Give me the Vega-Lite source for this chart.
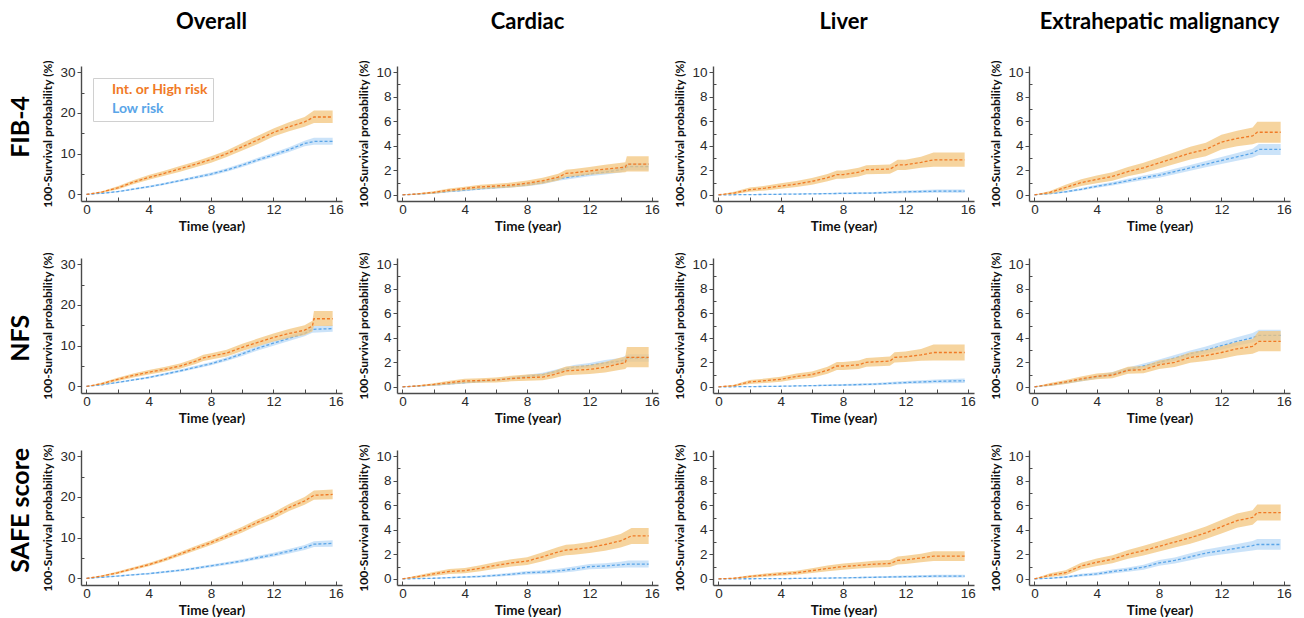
{
"$schema": "https://vega.github.io/schema/vega-lite/v6.json",
"background": "white",
"padding": {"left": 8, "top": 10, "right": 4, "bottom": 0},
"spacing": 18,
"datasets": {
"FO": [{"g":"H","t":0,"y":0,"l":0,"u":0},{"g":"H","t":1,"y":0.6,"l":0.4,"u":0.8},{"g":"H","t":2,"y":1.6,"l":1.2,"u":2.0},{"g":"H","t":3,"y":3.0,"l":2.5,"u":3.5},{"g":"H","t":4,"y":4.2,"l":3.6,"u":4.8},{"g":"H","t":5,"y":5.2,"l":4.6,"u":5.8},{"g":"H","t":6,"y":6.3,"l":5.6,"u":7.0},{"g":"H","t":7,"y":7.4,"l":6.7,"u":8.1},{"g":"H","t":8,"y":8.6,"l":7.8,"u":9.4},{"g":"H","t":9,"y":10.0,"l":9.2,"u":10.8},{"g":"H","t":10,"y":11.7,"l":10.8,"u":12.6},{"g":"H","t":11,"y":13.4,"l":12.4,"u":14.4},{"g":"H","t":12,"y":15.2,"l":14.2,"u":16.2},{"g":"H","t":13,"y":16.6,"l":15.5,"u":17.7},{"g":"H","t":14,"y":17.8,"l":16.6,"u":19.0},{"g":"H","t":14.6,"y":19.0,"l":17.5,"u":20.6},{"g":"H","t":15.8,"y":19.0,"l":17.5,"u":20.6},
{"g":"L","t":0,"y":0,"l":0,"u":0},{"g":"L","t":1,"y":0.3,"l":0.2,"u":0.4},{"g":"L","t":2,"y":0.7,"l":0.55,"u":0.85},{"g":"L","t":3,"y":1.3,"l":1.1,"u":1.5},{"g":"L","t":4,"y":1.9,"l":1.65,"u":2.15},{"g":"L","t":5,"y":2.6,"l":2.3,"u":2.9},{"g":"L","t":6,"y":3.4,"l":3.1,"u":3.7},{"g":"L","t":7,"y":4.2,"l":3.85,"u":4.55},{"g":"L","t":8,"y":5.0,"l":4.6,"u":5.4},{"g":"L","t":9,"y":6.0,"l":5.6,"u":6.4},{"g":"L","t":10,"y":7.2,"l":6.75,"u":7.65},{"g":"L","t":11,"y":8.5,"l":8.0,"u":9.0},{"g":"L","t":12,"y":9.7,"l":9.2,"u":10.2},{"g":"L","t":13,"y":11.0,"l":10.4,"u":11.6},{"g":"L","t":14,"y":12.5,"l":11.8,"u":13.2},{"g":"L","t":14.6,"y":13.0,"l":12.2,"u":13.9},{"g":"L","t":15.8,"y":13.0,"l":12.2,"u":13.9}],
"FC": [{"g":"H","t":0,"y":0,"l":0,"u":0},{"g":"H","t":1,"y":0.08,"l":0.02,"u":0.14},{"g":"H","t":2,"y":0.2,"l":0.1,"u":0.3},{"g":"H","t":3,"y":0.38,"l":0.25,"u":0.51},{"g":"H","t":4,"y":0.52,"l":0.37,"u":0.67},{"g":"H","t":5,"y":0.65,"l":0.48,"u":0.82},{"g":"H","t":6,"y":0.72,"l":0.54,"u":0.9},{"g":"H","t":7,"y":0.8,"l":0.6,"u":1.0},{"g":"H","t":8,"y":0.95,"l":0.73,"u":1.17},{"g":"H","t":9,"y":1.15,"l":0.9,"u":1.4},{"g":"H","t":10,"y":1.45,"l":1.17,"u":1.73},{"g":"H","t":10.5,"y":1.75,"l":1.45,"u":2.05},{"g":"H","t":11,"y":1.8,"l":1.5,"u":2.1},{"g":"H","t":12,"y":1.95,"l":1.63,"u":2.27},{"g":"H","t":13,"y":2.1,"l":1.75,"u":2.45},{"g":"H","t":14.3,"y":2.25,"l":1.85,"u":2.65},{"g":"H","t":14.4,"y":2.5,"l":1.9,"u":3.15},{"g":"H","t":15.8,"y":2.5,"l":1.9,"u":3.15},
{"g":"L","t":0,"y":0,"l":0,"u":0},{"g":"L","t":1,"y":0.06,"l":0.03,"u":0.09},{"g":"L","t":2,"y":0.15,"l":0.1,"u":0.2},{"g":"L","t":3,"y":0.28,"l":0.21,"u":0.35},{"g":"L","t":4,"y":0.38,"l":0.3,"u":0.46},{"g":"L","t":5,"y":0.5,"l":0.41,"u":0.59},{"g":"L","t":6,"y":0.6,"l":0.5,"u":0.7},{"g":"L","t":7,"y":0.7,"l":0.59,"u":0.81},{"g":"L","t":8,"y":0.82,"l":0.7,"u":0.94},{"g":"L","t":9,"y":1.0,"l":0.87,"u":1.13},{"g":"L","t":10,"y":1.3,"l":1.15,"u":1.45},{"g":"L","t":11,"y":1.5,"l":1.34,"u":1.66},{"g":"L","t":12,"y":1.7,"l":1.52,"u":1.88},{"g":"L","t":13,"y":1.85,"l":1.65,"u":2.05},{"g":"L","t":14,"y":2.05,"l":1.83,"u":2.27},{"g":"L","t":14.5,"y":2.3,"l":2.0,"u":2.6},{"g":"L","t":15.8,"y":2.3,"l":2.0,"u":2.6}],
"FL": [{"g":"H","t":0,"y":0,"l":0,"u":0},{"g":"H","t":1,"y":0.15,"l":0.05,"u":0.25},{"g":"H","t":2,"y":0.42,"l":0.25,"u":0.59},{"g":"H","t":3,"y":0.55,"l":0.36,"u":0.74},{"g":"H","t":4,"y":0.72,"l":0.5,"u":0.94},{"g":"H","t":5,"y":0.88,"l":0.64,"u":1.12},{"g":"H","t":6,"y":1.1,"l":0.83,"u":1.37},{"g":"H","t":7,"y":1.4,"l":1.1,"u":1.7},{"g":"H","t":7.6,"y":1.65,"l":1.32,"u":1.98},{"g":"H","t":8,"y":1.65,"l":1.32,"u":1.98},{"g":"H","t":9,"y":1.85,"l":1.5,"u":2.2},{"g":"H","t":9.5,"y":2.05,"l":1.68,"u":2.42},{"g":"H","t":11,"y":2.1,"l":1.72,"u":2.48},{"g":"H","t":11.5,"y":2.45,"l":2.03,"u":2.87},{"g":"H","t":12,"y":2.45,"l":2.03,"u":2.87},{"g":"H","t":13,"y":2.65,"l":2.2,"u":3.1},{"g":"H","t":13.8,"y":2.85,"l":2.3,"u":3.45},{"g":"H","t":15.8,"y":2.85,"l":2.3,"u":3.45},
{"g":"L","t":0,"y":0,"l":0,"u":0},{"g":"L","t":2,"y":0.02,"l":0,"u":0.05},{"g":"L","t":4,"y":0.05,"l":0.02,"u":0.1},{"g":"L","t":6,"y":0.08,"l":0.04,"u":0.14},{"g":"L","t":8,"y":0.12,"l":0.06,"u":0.19},{"g":"L","t":10,"y":0.15,"l":0.08,"u":0.23},{"g":"L","t":12,"y":0.25,"l":0.14,"u":0.36},{"g":"L","t":14,"y":0.3,"l":0.18,"u":0.43},{"g":"L","t":15.8,"y":0.3,"l":0.18,"u":0.43}],
"FE": [{"g":"H","t":0,"y":0,"l":0,"u":0},{"g":"H","t":1,"y":0.2,"l":0.08,"u":0.32},{"g":"H","t":2,"y":0.6,"l":0.38,"u":0.82},{"g":"H","t":3,"y":1.0,"l":0.72,"u":1.28},{"g":"H","t":4,"y":1.26,"l":0.95,"u":1.57},{"g":"H","t":5,"y":1.5,"l":1.16,"u":1.84},{"g":"H","t":6,"y":1.9,"l":1.52,"u":2.28},{"g":"H","t":7,"y":2.2,"l":1.79,"u":2.61},{"g":"H","t":8,"y":2.6,"l":2.15,"u":3.05},{"g":"H","t":9,"y":3.0,"l":2.52,"u":3.48},{"g":"H","t":10,"y":3.4,"l":2.88,"u":3.92},{"g":"H","t":11,"y":3.7,"l":3.15,"u":4.25},{"g":"H","t":12,"y":4.3,"l":3.7,"u":4.9},{"g":"H","t":13,"y":4.6,"l":3.97,"u":5.23},{"g":"H","t":14,"y":4.8,"l":4.12,"u":5.48},{"g":"H","t":14.3,"y":5.1,"l":4.25,"u":5.95},{"g":"H","t":15.8,"y":5.1,"l":4.25,"u":5.95},
{"g":"L","t":0,"y":0,"l":0,"u":0},{"g":"L","t":1,"y":0.1,"l":0.05,"u":0.15},{"g":"L","t":2,"y":0.25,"l":0.17,"u":0.33},{"g":"L","t":3,"y":0.45,"l":0.35,"u":0.55},{"g":"L","t":4,"y":0.7,"l":0.58,"u":0.82},{"g":"L","t":5,"y":0.9,"l":0.76,"u":1.04},{"g":"L","t":6,"y":1.15,"l":0.99,"u":1.31},{"g":"L","t":7,"y":1.4,"l":1.22,"u":1.58},{"g":"L","t":8,"y":1.6,"l":1.4,"u":1.8},{"g":"L","t":9,"y":1.9,"l":1.68,"u":2.12},{"g":"L","t":10,"y":2.2,"l":1.96,"u":2.44},{"g":"L","t":11,"y":2.5,"l":2.24,"u":2.76},{"g":"L","t":12,"y":2.8,"l":2.52,"u":3.08},{"g":"L","t":13,"y":3.1,"l":2.78,"u":3.42},{"g":"L","t":14,"y":3.4,"l":3.05,"u":3.75},{"g":"L","t":14.4,"y":3.7,"l":3.25,"u":4.15},{"g":"L","t":15.8,"y":3.7,"l":3.25,"u":4.15}],
"NO": [{"g":"H","t":0,"y":0,"l":0,"u":0},{"g":"H","t":1,"y":0.7,"l":0.45,"u":0.95},{"g":"H","t":2,"y":1.75,"l":1.35,"u":2.15},{"g":"H","t":3,"y":2.7,"l":2.2,"u":3.2},{"g":"H","t":4,"y":3.5,"l":2.95,"u":4.05},{"g":"H","t":5,"y":4.2,"l":3.6,"u":4.8},{"g":"H","t":6,"y":5.0,"l":4.35,"u":5.65},{"g":"H","t":7,"y":6.2,"l":5.5,"u":6.9},{"g":"H","t":7.5,"y":7.0,"l":6.25,"u":7.75},{"g":"H","t":8,"y":7.4,"l":6.63,"u":8.17},{"g":"H","t":9,"y":8.2,"l":7.38,"u":9.02},{"g":"H","t":10,"y":9.6,"l":8.7,"u":10.5},{"g":"H","t":11,"y":10.8,"l":9.85,"u":11.75},{"g":"H","t":12,"y":12.0,"l":11.0,"u":13.0},{"g":"H","t":13,"y":13.0,"l":11.9,"u":14.1},{"g":"H","t":14,"y":13.8,"l":12.6,"u":15.0},{"g":"H","t":14.5,"y":14.8,"l":13.5,"u":16.1},{"g":"H","t":14.6,"y":16.6,"l":14.8,"u":18.5},{"g":"H","t":15.8,"y":16.6,"l":14.8,"u":18.5},
{"g":"L","t":0,"y":0,"l":0,"u":0},{"g":"L","t":1,"y":0.4,"l":0.28,"u":0.52},{"g":"L","t":2,"y":1.0,"l":0.82,"u":1.18},{"g":"L","t":3,"y":1.6,"l":1.38,"u":1.82},{"g":"L","t":4,"y":2.2,"l":1.95,"u":2.45},{"g":"L","t":5,"y":3.0,"l":2.7,"u":3.3},{"g":"L","t":6,"y":3.8,"l":3.46,"u":4.14},{"g":"L","t":7,"y":4.7,"l":4.32,"u":5.08},{"g":"L","t":8,"y":5.6,"l":5.18,"u":6.02},{"g":"L","t":9,"y":6.7,"l":6.24,"u":7.16},{"g":"L","t":10,"y":8.0,"l":7.5,"u":8.5},{"g":"L","t":11,"y":9.4,"l":8.85,"u":9.95},{"g":"L","t":12,"y":10.6,"l":10.0,"u":11.2},{"g":"L","t":13,"y":11.8,"l":11.15,"u":12.45},{"g":"L","t":14,"y":13.0,"l":12.3,"u":13.7},{"g":"L","t":14.5,"y":14.0,"l":13.2,"u":14.8},{"g":"L","t":15.8,"y":14.2,"l":13.4,"u":15.0}],
"NC": [{"g":"H","t":0,"y":0,"l":0,"u":0},{"g":"H","t":1,"y":0.08,"l":0.02,"u":0.14},{"g":"H","t":2,"y":0.2,"l":0.1,"u":0.3},{"g":"H","t":3,"y":0.35,"l":0.2,"u":0.5},{"g":"H","t":4,"y":0.48,"l":0.3,"u":0.66},{"g":"H","t":5,"y":0.52,"l":0.33,"u":0.71},{"g":"H","t":6,"y":0.56,"l":0.36,"u":0.76},{"g":"H","t":7,"y":0.68,"l":0.45,"u":0.91},{"g":"H","t":8,"y":0.75,"l":0.5,"u":1.0},{"g":"H","t":9,"y":0.8,"l":0.54,"u":1.06},{"g":"H","t":9.7,"y":1.0,"l":0.7,"u":1.3},{"g":"H","t":10.5,"y":1.3,"l":0.95,"u":1.65},{"g":"H","t":12,"y":1.42,"l":1.05,"u":1.79},{"g":"H","t":13,"y":1.6,"l":1.18,"u":2.02},{"g":"H","t":14,"y":1.9,"l":1.4,"u":2.4},{"g":"H","t":14.3,"y":1.95,"l":1.45,"u":2.45},{"g":"H","t":14.4,"y":2.4,"l":1.6,"u":3.25},{"g":"H","t":15.8,"y":2.4,"l":1.6,"u":3.25},
{"g":"L","t":0,"y":0,"l":0,"u":0},{"g":"L","t":1,"y":0.06,"l":0.03,"u":0.09},{"g":"L","t":2,"y":0.15,"l":0.1,"u":0.2},{"g":"L","t":3,"y":0.25,"l":0.18,"u":0.32},{"g":"L","t":4,"y":0.35,"l":0.27,"u":0.43},{"g":"L","t":5,"y":0.45,"l":0.36,"u":0.54},{"g":"L","t":6,"y":0.55,"l":0.45,"u":0.65},{"g":"L","t":7,"y":0.7,"l":0.59,"u":0.81},{"g":"L","t":8,"y":0.85,"l":0.72,"u":0.98},{"g":"L","t":9,"y":1.0,"l":0.86,"u":1.14},{"g":"L","t":10,"y":1.3,"l":1.14,"u":1.46},{"g":"L","t":11,"y":1.6,"l":1.42,"u":1.78},{"g":"L","t":12,"y":1.75,"l":1.55,"u":1.95},{"g":"L","t":13,"y":1.95,"l":1.72,"u":2.18},{"g":"L","t":14,"y":2.1,"l":1.85,"u":2.35},{"g":"L","t":14.5,"y":2.35,"l":2.05,"u":2.65},{"g":"L","t":15.8,"y":2.35,"l":2.05,"u":2.65}],
"NL": [{"g":"H","t":0,"y":0,"l":0,"u":0},{"g":"H","t":1,"y":0.1,"l":0.02,"u":0.18},{"g":"H","t":2,"y":0.4,"l":0.24,"u":0.56},{"g":"H","t":3,"y":0.5,"l":0.32,"u":0.68},{"g":"H","t":4,"y":0.62,"l":0.42,"u":0.82},{"g":"H","t":5,"y":0.85,"l":0.62,"u":1.08},{"g":"H","t":6,"y":1.0,"l":0.75,"u":1.25},{"g":"H","t":7,"y":1.35,"l":1.06,"u":1.64},{"g":"H","t":7.6,"y":1.7,"l":1.38,"u":2.02},{"g":"H","t":8,"y":1.7,"l":1.38,"u":2.02},{"g":"H","t":9,"y":1.8,"l":1.46,"u":2.14},{"g":"H","t":9.5,"y":2.0,"l":1.64,"u":2.36},{"g":"H","t":11,"y":2.1,"l":1.72,"u":2.48},{"g":"H","t":11.3,"y":2.4,"l":1.98,"u":2.82},{"g":"H","t":12,"y":2.45,"l":2.02,"u":2.88},{"g":"H","t":13,"y":2.6,"l":2.12,"u":3.08},{"g":"H","t":13.8,"y":2.8,"l":2.15,"u":3.45},{"g":"H","t":15.8,"y":2.8,"l":2.15,"u":3.45},
{"g":"L","t":0,"y":0,"l":0,"u":0},{"g":"L","t":2,"y":0.02,"l":0,"u":0.05},{"g":"L","t":4,"y":0.05,"l":0.02,"u":0.1},{"g":"L","t":6,"y":0.1,"l":0.05,"u":0.16},{"g":"L","t":8,"y":0.15,"l":0.08,"u":0.23},{"g":"L","t":10,"y":0.22,"l":0.13,"u":0.31},{"g":"L","t":12,"y":0.35,"l":0.23,"u":0.47},{"g":"L","t":14,"y":0.45,"l":0.3,"u":0.6},{"g":"L","t":15.8,"y":0.5,"l":0.32,"u":0.68}],
"NE": [{"g":"H","t":0,"y":0,"l":0,"u":0},{"g":"H","t":1,"y":0.2,"l":0.08,"u":0.32},{"g":"H","t":2,"y":0.4,"l":0.24,"u":0.56},{"g":"H","t":3,"y":0.65,"l":0.45,"u":0.85},{"g":"H","t":4,"y":0.86,"l":0.63,"u":1.09},{"g":"H","t":5,"y":0.95,"l":0.7,"u":1.2},{"g":"H","t":6,"y":1.35,"l":1.06,"u":1.64},{"g":"H","t":7,"y":1.4,"l":1.1,"u":1.7},{"g":"H","t":8,"y":1.8,"l":1.45,"u":2.15},{"g":"H","t":9,"y":2.0,"l":1.62,"u":2.38},{"g":"H","t":10,"y":2.4,"l":1.97,"u":2.83},{"g":"H","t":11,"y":2.55,"l":2.1,"u":3.0},{"g":"H","t":12,"y":2.8,"l":2.3,"u":3.3},{"g":"H","t":13,"y":3.1,"l":2.55,"u":3.65},{"g":"H","t":14,"y":3.3,"l":2.7,"u":3.9},{"g":"H","t":14.4,"y":3.7,"l":2.9,"u":4.55},{"g":"H","t":15.8,"y":3.7,"l":2.9,"u":4.55},
{"g":"L","t":0,"y":0,"l":0,"u":0},{"g":"L","t":1,"y":0.15,"l":0.08,"u":0.22},{"g":"L","t":2,"y":0.35,"l":0.25,"u":0.45},{"g":"L","t":3,"y":0.55,"l":0.43,"u":0.67},{"g":"L","t":4,"y":0.8,"l":0.66,"u":0.94},{"g":"L","t":5,"y":1.05,"l":0.89,"u":1.21},{"g":"L","t":6,"y":1.4,"l":1.22,"u":1.58},{"g":"L","t":7,"y":1.7,"l":1.5,"u":1.9},{"g":"L","t":8,"y":2.0,"l":1.78,"u":2.22},{"g":"L","t":9,"y":2.35,"l":2.1,"u":2.6},{"g":"L","t":10,"y":2.7,"l":2.43,"u":2.97},{"g":"L","t":11,"y":3.0,"l":2.71,"u":3.29},{"g":"L","t":12,"y":3.35,"l":3.03,"u":3.67},{"g":"L","t":13,"y":3.7,"l":3.35,"u":4.05},{"g":"L","t":14,"y":4.0,"l":3.62,"u":4.38},{"g":"L","t":14.4,"y":4.2,"l":3.78,"u":4.65},{"g":"L","t":15.8,"y":4.2,"l":3.78,"u":4.65}],
"SO": [{"g":"H","t":0,"y":0,"l":0,"u":0},{"g":"H","t":1,"y":0.6,"l":0.4,"u":0.8},{"g":"H","t":2,"y":1.4,"l":1.1,"u":1.7},{"g":"H","t":3,"y":2.4,"l":2.05,"u":2.75},{"g":"H","t":4,"y":3.4,"l":3.0,"u":3.8},{"g":"H","t":5,"y":4.6,"l":4.15,"u":5.05},{"g":"H","t":6,"y":6.0,"l":5.5,"u":6.5},{"g":"H","t":7,"y":7.4,"l":6.85,"u":7.95},{"g":"H","t":8,"y":8.8,"l":8.2,"u":9.4},{"g":"H","t":9,"y":10.4,"l":9.75,"u":11.05},{"g":"H","t":10,"y":12.0,"l":11.3,"u":12.7},{"g":"H","t":11,"y":13.8,"l":13.05,"u":14.55},{"g":"H","t":12,"y":15.4,"l":14.6,"u":16.2},{"g":"H","t":13,"y":17.4,"l":16.55,"u":18.25},{"g":"H","t":14,"y":19.0,"l":18.05,"u":19.95},{"g":"H","t":14.6,"y":20.4,"l":19.3,"u":21.6},{"g":"H","t":15.8,"y":20.6,"l":19.4,"u":21.8},
{"g":"L","t":0,"y":0,"l":0,"u":0},{"g":"L","t":1,"y":0.3,"l":0.2,"u":0.4},{"g":"L","t":2,"y":0.6,"l":0.45,"u":0.75},{"g":"L","t":3,"y":0.9,"l":0.72,"u":1.08},{"g":"L","t":4,"y":1.2,"l":1.0,"u":1.4},{"g":"L","t":5,"y":1.6,"l":1.37,"u":1.83},{"g":"L","t":6,"y":2.0,"l":1.74,"u":2.26},{"g":"L","t":7,"y":2.5,"l":2.2,"u":2.8},{"g":"L","t":8,"y":3.1,"l":2.77,"u":3.43},{"g":"L","t":9,"y":3.7,"l":3.33,"u":4.07},{"g":"L","t":10,"y":4.3,"l":3.9,"u":4.7},{"g":"L","t":11,"y":5.1,"l":4.65,"u":5.55},{"g":"L","t":12,"y":5.8,"l":5.3,"u":6.3},{"g":"L","t":13,"y":6.7,"l":6.15,"u":7.25},{"g":"L","t":14,"y":7.6,"l":7.0,"u":8.2},{"g":"L","t":14.6,"y":8.4,"l":7.7,"u":9.1},{"g":"L","t":15.8,"y":8.6,"l":7.8,"u":9.4}],
"SC": [{"g":"H","t":0,"y":0,"l":0,"u":0},{"g":"H","t":1,"y":0.19,"l":0.08,"u":0.3},{"g":"H","t":2,"y":0.4,"l":0.24,"u":0.56},{"g":"H","t":3,"y":0.6,"l":0.4,"u":0.8},{"g":"H","t":4,"y":0.67,"l":0.46,"u":0.88},{"g":"H","t":5,"y":0.86,"l":0.62,"u":1.1},{"g":"H","t":6,"y":1.1,"l":0.83,"u":1.37},{"g":"H","t":7,"y":1.3,"l":1.0,"u":1.6},{"g":"H","t":8,"y":1.45,"l":1.13,"u":1.77},{"g":"H","t":9,"y":1.8,"l":1.44,"u":2.16},{"g":"H","t":10,"y":2.2,"l":1.8,"u":2.6},{"g":"H","t":10.5,"y":2.35,"l":1.93,"u":2.77},{"g":"H","t":11,"y":2.4,"l":1.97,"u":2.83},{"g":"H","t":12,"y":2.55,"l":2.1,"u":3.0},{"g":"H","t":13,"y":2.8,"l":2.3,"u":3.3},{"g":"H","t":14,"y":3.1,"l":2.55,"u":3.65},{"g":"H","t":14.7,"y":3.5,"l":2.85,"u":4.15},{"g":"H","t":15.8,"y":3.5,"l":2.85,"u":4.15},
{"g":"L","t":0,"y":0,"l":0,"u":0},{"g":"L","t":1,"y":0.02,"l":0,"u":0.05},{"g":"L","t":2,"y":0.05,"l":0.01,"u":0.1},{"g":"L","t":3,"y":0.1,"l":0.04,"u":0.16},{"g":"L","t":4,"y":0.15,"l":0.08,"u":0.22},{"g":"L","t":5,"y":0.2,"l":0.11,"u":0.29},{"g":"L","t":6,"y":0.28,"l":0.18,"u":0.38},{"g":"L","t":7,"y":0.38,"l":0.26,"u":0.5},{"g":"L","t":8,"y":0.5,"l":0.36,"u":0.64},{"g":"L","t":9,"y":0.55,"l":0.4,"u":0.7},{"g":"L","t":10,"y":0.65,"l":0.48,"u":0.82},{"g":"L","t":11,"y":0.8,"l":0.6,"u":1.0},{"g":"L","t":12,"y":1.0,"l":0.78,"u":1.22},{"g":"L","t":13,"y":1.05,"l":0.82,"u":1.28},{"g":"L","t":14,"y":1.15,"l":0.9,"u":1.4},{"g":"L","t":14.5,"y":1.2,"l":0.93,"u":1.5},{"g":"L","t":15.8,"y":1.2,"l":0.93,"u":1.5}],
"SL": [{"g":"H","t":0,"y":0,"l":0,"u":0},{"g":"H","t":1,"y":0.05,"l":0,"u":0.1},{"g":"H","t":2,"y":0.2,"l":0.1,"u":0.3},{"g":"H","t":3,"y":0.3,"l":0.17,"u":0.43},{"g":"H","t":4,"y":0.4,"l":0.25,"u":0.55},{"g":"H","t":5,"y":0.5,"l":0.33,"u":0.67},{"g":"H","t":6,"y":0.67,"l":0.47,"u":0.87},{"g":"H","t":7,"y":0.85,"l":0.62,"u":1.08},{"g":"H","t":8,"y":1.0,"l":0.75,"u":1.25},{"g":"H","t":9,"y":1.1,"l":0.84,"u":1.36},{"g":"H","t":10,"y":1.2,"l":0.92,"u":1.48},{"g":"H","t":11,"y":1.25,"l":0.96,"u":1.54},{"g":"H","t":11.5,"y":1.5,"l":1.18,"u":1.82},{"g":"H","t":12,"y":1.55,"l":1.22,"u":1.88},{"g":"H","t":13,"y":1.7,"l":1.35,"u":2.05},{"g":"H","t":13.8,"y":1.85,"l":1.45,"u":2.25},{"g":"H","t":15.8,"y":1.85,"l":1.45,"u":2.25},
{"g":"L","t":0,"y":0,"l":0,"u":0},{"g":"L","t":4,"y":0.02,"l":0,"u":0.05},{"g":"L","t":8,"y":0.08,"l":0.03,"u":0.14},{"g":"L","t":12,"y":0.18,"l":0.09,"u":0.28},{"g":"L","t":14,"y":0.22,"l":0.12,"u":0.33},{"g":"L","t":15.8,"y":0.22,"l":0.12,"u":0.33}],
"SE": [{"g":"H","t":0,"y":0,"l":0,"u":0},{"g":"H","t":1,"y":0.3,"l":0.15,"u":0.45},{"g":"H","t":2,"y":0.5,"l":0.3,"u":0.7},{"g":"H","t":3,"y":1.05,"l":0.78,"u":1.32},{"g":"H","t":4,"y":1.35,"l":1.05,"u":1.65},{"g":"H","t":5,"y":1.6,"l":1.27,"u":1.93},{"g":"H","t":6,"y":2.0,"l":1.64,"u":2.36},{"g":"H","t":7,"y":2.3,"l":1.91,"u":2.69},{"g":"H","t":8,"y":2.65,"l":2.23,"u":3.07},{"g":"H","t":9,"y":3.0,"l":2.55,"u":3.45},{"g":"H","t":10,"y":3.35,"l":2.87,"u":3.83},{"g":"H","t":11,"y":3.75,"l":3.24,"u":4.26},{"g":"H","t":12,"y":4.25,"l":3.7,"u":4.8},{"g":"H","t":13,"y":4.75,"l":4.17,"u":5.33},{"g":"H","t":14,"y":5.0,"l":4.4,"u":5.6},{"g":"H","t":14.3,"y":5.4,"l":4.75,"u":6.05},{"g":"H","t":15.8,"y":5.4,"l":4.75,"u":6.05},
{"g":"L","t":0,"y":0,"l":0,"u":0},{"g":"L","t":1,"y":0.05,"l":0.01,"u":0.09},{"g":"L","t":2,"y":0.15,"l":0.07,"u":0.23},{"g":"L","t":3,"y":0.3,"l":0.19,"u":0.41},{"g":"L","t":4,"y":0.4,"l":0.27,"u":0.53},{"g":"L","t":5,"y":0.6,"l":0.44,"u":0.76},{"g":"L","t":6,"y":0.75,"l":0.57,"u":0.93},{"g":"L","t":7,"y":0.95,"l":0.75,"u":1.15},{"g":"L","t":8,"y":1.3,"l":1.07,"u":1.53},{"g":"L","t":9,"y":1.5,"l":1.25,"u":1.75},{"g":"L","t":10,"y":1.8,"l":1.52,"u":2.08},{"g":"L","t":11,"y":2.1,"l":1.8,"u":2.4},{"g":"L","t":12,"y":2.3,"l":1.98,"u":2.62},{"g":"L","t":13,"y":2.5,"l":2.15,"u":2.85},{"g":"L","t":14,"y":2.7,"l":2.32,"u":3.08},{"g":"L","t":14.3,"y":2.8,"l":2.38,"u":3.25},{"g":"L","t":15.8,"y":2.8,"l":2.38,"u":3.25}]
},
"vconcat": [
{"title": {"text": "FIB-4", "orient": "left", "anchor": "middle", "font": "Lato", "fontSize": 25, "fontWeight": "bold", "color": "black", "offset": 8, "dx": -5},
 "spacing": 13,
 "resolve": {"scale": {"stroke": "independent"}, "legend": {"stroke": "independent"}},
 "hconcat": [
 {"title": {"text": "Overall", "font": "Lato", "fontSize": 22, "fontWeight": "bold", "color": "black", "offset": 26},
  "width": 261, "height": 135, "data": {"name": "FO"},
  "encoding": {"x": {"field": "t", "type": "quantitative", "scale": {"domain": [-0.35, 16.4], "nice": false, "zero": false}, "axis": {"values": [0,2,4,6,8,10,12,14,16], "tickCount": 30, "format": "d", "labelExpr": "datum.value % 4 === 0 ? datum.label : ''", "title": "Time (year)"}}},
  "layer": [
   {"transform": [{"filter": "datum.g === 'L'"}], "mark": {"type": "area", "color": "#a9d0f5", "opacity": 0.6}, "encoding": {"y": {"field": "l", "type": "quantitative", "scale": {"domain": [-1.6, 31.5], "nice": false, "zero": false}, "axis": {"values": [0,5,10,15,20,25,30], "tickCount": 30, "format": "d", "labelExpr": "datum.value % 10 === 0 ? datum.label : ''", "tickSize": {"condition": {"test": "datum.value % 10 !== 0", "value": -3}, "value": 4}, "title": "100-Survival probability (%)"}}, "y2": {"field": "u"}}},
   {"transform": [{"filter": "datum.g === 'L'"}], "mark": {"type": "line", "strokeDash": [3, 2], "strokeWidth": 1.3}, "encoding": {"y": {"field": "y", "type": "quantitative", "scale": {"domain": [-1.6, 31.5], "nice": false, "zero": false}}, "stroke": {"field": "g", "type": "nominal", "scale": {"domain": ["H", "L"], "range": ["#f07a26", "#5aa5e8"]}, "legend": {"orient": "top-left", "offset": 12, "title": null, "padding": 5, "strokeColor": "#d0d0d0", "fillColor": "white", "symbolSize": 0, "symbolOpacity": 0, "symbolStrokeWidth": 0, "labelOffset": 0, "labelFont": "Lato", "labelFontSize": 14, "labelFontWeight": "bold", "labelLimit": 300, "rowPadding": 5, "labelExpr": "datum.value === 'H' ? 'Int. or High risk' : 'Low risk'", "encode": {"labels": {"update": {"fill": {"signal": "datum.value === 'H' ? '#f07a26' : '#5aa5e8'"}}}}}}}},
   {"transform": [{"filter": "datum.g === 'H'"}], "mark": {"type": "area", "color": "#f3c57e", "opacity": 0.75}, "encoding": {"y": {"field": "l", "type": "quantitative", "scale": {"domain": [-1.6, 31.5], "nice": false, "zero": false}}, "y2": {"field": "u"}}},
   {"transform": [{"filter": "datum.g === 'H'"}], "mark": {"type": "line", "strokeDash": [3, 2], "strokeWidth": 1.3}, "encoding": {"y": {"field": "y", "type": "quantitative", "scale": {"domain": [-1.6, 31.5], "nice": false, "zero": false}}, "stroke": {"field": "g", "type": "nominal", "scale": {"domain": ["H", "L"], "range": ["#f07a26", "#5aa5e8"]}}}}
  ]},
 {"title": {"text": "Cardiac", "font": "Lato", "fontSize": 22, "fontWeight": "bold", "color": "black", "offset": 26},
  "width": 261, "height": 135, "data": {"name": "FC"},
  "encoding": {"x": {"field": "t", "type": "quantitative", "scale": {"domain": [-0.35, 16.4], "nice": false, "zero": false}, "axis": {"values": [0,2,4,6,8,10,12,14,16], "tickCount": 30, "format": "d", "labelExpr": "datum.value % 4 === 0 ? datum.label : ''", "title": "Time (year)"}}},
  "layer": [
   {"transform": [{"filter": "datum.g === 'L'"}], "mark": {"type": "area", "color": "#a9d0f5", "opacity": 0.6}, "encoding": {"y": {"field": "l", "type": "quantitative", "scale": {"domain": [-0.5, 10.5], "nice": false, "zero": false}, "axis": {"values": [0,1,2,3,4,5,6,7,8,9,10], "tickCount": 30, "format": "d", "labelExpr": "datum.value % 2 === 0 ? datum.label : ''", "tickSize": {"condition": {"test": "datum.value % 2 !== 0", "value": -3}, "value": 4}, "title": "100-Survival probability (%)"}}, "y2": {"field": "u"}}},
   {"transform": [{"filter": "datum.g === 'L'"}], "mark": {"type": "line", "strokeDash": [3, 2], "strokeWidth": 1.3, "stroke": "#5aa5e8"}, "encoding": {"y": {"field": "y", "type": "quantitative", "scale": {"domain": [-0.5, 10.5], "nice": false, "zero": false}}}},
   {"transform": [{"filter": "datum.g === 'H'"}], "mark": {"type": "area", "color": "#f3c57e", "opacity": 0.75}, "encoding": {"y": {"field": "l", "type": "quantitative", "scale": {"domain": [-0.5, 10.5], "nice": false, "zero": false}}, "y2": {"field": "u"}}},
   {"transform": [{"filter": "datum.g === 'H'"}], "mark": {"type": "line", "strokeDash": [3, 2], "strokeWidth": 1.3, "stroke": "#f07a26"}, "encoding": {"y": {"field": "y", "type": "quantitative", "scale": {"domain": [-0.5, 10.5], "nice": false, "zero": false}}}}
  ]},
 {"title": {"text": "Liver", "font": "Lato", "fontSize": 22, "fontWeight": "bold", "color": "black", "offset": 26},
  "width": 261, "height": 135, "data": {"name": "FL"},
  "encoding": {"x": {"field": "t", "type": "quantitative", "scale": {"domain": [-0.35, 16.4], "nice": false, "zero": false}, "axis": {"values": [0,2,4,6,8,10,12,14,16], "tickCount": 30, "format": "d", "labelExpr": "datum.value % 4 === 0 ? datum.label : ''", "title": "Time (year)"}}},
  "layer": [
   {"transform": [{"filter": "datum.g === 'L'"}], "mark": {"type": "area", "color": "#a9d0f5", "opacity": 0.6}, "encoding": {"y": {"field": "l", "type": "quantitative", "scale": {"domain": [-0.5, 10.5], "nice": false, "zero": false}, "axis": {"values": [0,1,2,3,4,5,6,7,8,9,10], "tickCount": 30, "format": "d", "labelExpr": "datum.value % 2 === 0 ? datum.label : ''", "tickSize": {"condition": {"test": "datum.value % 2 !== 0", "value": -3}, "value": 4}, "title": "100-Survival probability (%)"}}, "y2": {"field": "u"}}},
   {"transform": [{"filter": "datum.g === 'L'"}], "mark": {"type": "line", "strokeDash": [3, 2], "strokeWidth": 1.3, "stroke": "#5aa5e8"}, "encoding": {"y": {"field": "y", "type": "quantitative", "scale": {"domain": [-0.5, 10.5], "nice": false, "zero": false}}}},
   {"transform": [{"filter": "datum.g === 'H'"}], "mark": {"type": "area", "color": "#f3c57e", "opacity": 0.75}, "encoding": {"y": {"field": "l", "type": "quantitative", "scale": {"domain": [-0.5, 10.5], "nice": false, "zero": false}}, "y2": {"field": "u"}}},
   {"transform": [{"filter": "datum.g === 'H'"}], "mark": {"type": "line", "strokeDash": [3, 2], "strokeWidth": 1.3, "stroke": "#f07a26"}, "encoding": {"y": {"field": "y", "type": "quantitative", "scale": {"domain": [-0.5, 10.5], "nice": false, "zero": false}}}}
  ]},
 {"title": {"text": "Extrahepatic malignancy", "font": "Lato", "fontSize": 22, "fontWeight": "bold", "color": "black", "offset": 26},
  "width": 261, "height": 135, "data": {"name": "FE"},
  "encoding": {"x": {"field": "t", "type": "quantitative", "scale": {"domain": [-0.35, 16.4], "nice": false, "zero": false}, "axis": {"values": [0,2,4,6,8,10,12,14,16], "tickCount": 30, "format": "d", "labelExpr": "datum.value % 4 === 0 ? datum.label : ''", "title": "Time (year)"}}},
  "layer": [
   {"transform": [{"filter": "datum.g === 'L'"}], "mark": {"type": "area", "color": "#a9d0f5", "opacity": 0.6}, "encoding": {"y": {"field": "l", "type": "quantitative", "scale": {"domain": [-0.5, 10.5], "nice": false, "zero": false}, "axis": {"values": [0,1,2,3,4,5,6,7,8,9,10], "tickCount": 30, "format": "d", "labelExpr": "datum.value % 2 === 0 ? datum.label : ''", "tickSize": {"condition": {"test": "datum.value % 2 !== 0", "value": -3}, "value": 4}, "title": "100-Survival probability (%)"}}, "y2": {"field": "u"}}},
   {"transform": [{"filter": "datum.g === 'L'"}], "mark": {"type": "line", "strokeDash": [3, 2], "strokeWidth": 1.3, "stroke": "#5aa5e8"}, "encoding": {"y": {"field": "y", "type": "quantitative", "scale": {"domain": [-0.5, 10.5], "nice": false, "zero": false}}}},
   {"transform": [{"filter": "datum.g === 'H'"}], "mark": {"type": "area", "color": "#f3c57e", "opacity": 0.75}, "encoding": {"y": {"field": "l", "type": "quantitative", "scale": {"domain": [-0.5, 10.5], "nice": false, "zero": false}}, "y2": {"field": "u"}}},
   {"transform": [{"filter": "datum.g === 'H'"}], "mark": {"type": "line", "strokeDash": [3, 2], "strokeWidth": 1.3, "stroke": "#f07a26"}, "encoding": {"y": {"field": "y", "type": "quantitative", "scale": {"domain": [-0.5, 10.5], "nice": false, "zero": false}}}}
  ]}
 ]},
{"title": {"text": "NFS", "orient": "left", "anchor": "middle", "font": "Lato", "fontSize": 25, "fontWeight": "bold", "color": "black", "offset": 8},
 "spacing": 13,
 "hconcat": [
 {"width": 261, "height": 135, "data": {"name": "NO"},
  "encoding": {"x": {"field": "t", "type": "quantitative", "scale": {"domain": [-0.35, 16.4], "nice": false, "zero": false}, "axis": {"values": [0,2,4,6,8,10,12,14,16], "tickCount": 30, "format": "d", "labelExpr": "datum.value % 4 === 0 ? datum.label : ''", "title": "Time (year)"}}},
  "layer": [
   {"transform": [{"filter": "datum.g === 'L'"}], "mark": {"type": "area", "color": "#a9d0f5", "opacity": 0.6}, "encoding": {"y": {"field": "l", "type": "quantitative", "scale": {"domain": [-1.6, 31.5], "nice": false, "zero": false}, "axis": {"values": [0,5,10,15,20,25,30], "tickCount": 30, "format": "d", "labelExpr": "datum.value % 10 === 0 ? datum.label : ''", "tickSize": {"condition": {"test": "datum.value % 10 !== 0", "value": -3}, "value": 4}, "title": "100-Survival probability (%)"}}, "y2": {"field": "u"}}},
   {"transform": [{"filter": "datum.g === 'L'"}], "mark": {"type": "line", "strokeDash": [3, 2], "strokeWidth": 1.3, "stroke": "#5aa5e8"}, "encoding": {"y": {"field": "y", "type": "quantitative", "scale": {"domain": [-1.6, 31.5], "nice": false, "zero": false}}}},
   {"transform": [{"filter": "datum.g === 'H'"}], "mark": {"type": "area", "color": "#f3c57e", "opacity": 0.75}, "encoding": {"y": {"field": "l", "type": "quantitative", "scale": {"domain": [-1.6, 31.5], "nice": false, "zero": false}}, "y2": {"field": "u"}}},
   {"transform": [{"filter": "datum.g === 'H'"}], "mark": {"type": "line", "strokeDash": [3, 2], "strokeWidth": 1.3, "stroke": "#f07a26"}, "encoding": {"y": {"field": "y", "type": "quantitative", "scale": {"domain": [-1.6, 31.5], "nice": false, "zero": false}}}}
  ]},
 {"width": 261, "height": 135, "data": {"name": "NC"},
  "encoding": {"x": {"field": "t", "type": "quantitative", "scale": {"domain": [-0.35, 16.4], "nice": false, "zero": false}, "axis": {"values": [0,2,4,6,8,10,12,14,16], "tickCount": 30, "format": "d", "labelExpr": "datum.value % 4 === 0 ? datum.label : ''", "title": "Time (year)"}}},
  "layer": [
   {"transform": [{"filter": "datum.g === 'L'"}], "mark": {"type": "area", "color": "#a9d0f5", "opacity": 0.6}, "encoding": {"y": {"field": "l", "type": "quantitative", "scale": {"domain": [-0.5, 10.5], "nice": false, "zero": false}, "axis": {"values": [0,1,2,3,4,5,6,7,8,9,10], "tickCount": 30, "format": "d", "labelExpr": "datum.value % 2 === 0 ? datum.label : ''", "tickSize": {"condition": {"test": "datum.value % 2 !== 0", "value": -3}, "value": 4}, "title": "100-Survival probability (%)"}}, "y2": {"field": "u"}}},
   {"transform": [{"filter": "datum.g === 'L'"}], "mark": {"type": "line", "strokeDash": [3, 2], "strokeWidth": 1.3, "stroke": "#5aa5e8"}, "encoding": {"y": {"field": "y", "type": "quantitative", "scale": {"domain": [-0.5, 10.5], "nice": false, "zero": false}}}},
   {"transform": [{"filter": "datum.g === 'H'"}], "mark": {"type": "area", "color": "#f3c57e", "opacity": 0.75}, "encoding": {"y": {"field": "l", "type": "quantitative", "scale": {"domain": [-0.5, 10.5], "nice": false, "zero": false}}, "y2": {"field": "u"}}},
   {"transform": [{"filter": "datum.g === 'H'"}], "mark": {"type": "line", "strokeDash": [3, 2], "strokeWidth": 1.3, "stroke": "#f07a26"}, "encoding": {"y": {"field": "y", "type": "quantitative", "scale": {"domain": [-0.5, 10.5], "nice": false, "zero": false}}}}
  ]},
 {"width": 261, "height": 135, "data": {"name": "NL"},
  "encoding": {"x": {"field": "t", "type": "quantitative", "scale": {"domain": [-0.35, 16.4], "nice": false, "zero": false}, "axis": {"values": [0,2,4,6,8,10,12,14,16], "tickCount": 30, "format": "d", "labelExpr": "datum.value % 4 === 0 ? datum.label : ''", "title": "Time (year)"}}},
  "layer": [
   {"transform": [{"filter": "datum.g === 'L'"}], "mark": {"type": "area", "color": "#a9d0f5", "opacity": 0.6}, "encoding": {"y": {"field": "l", "type": "quantitative", "scale": {"domain": [-0.5, 10.5], "nice": false, "zero": false}, "axis": {"values": [0,1,2,3,4,5,6,7,8,9,10], "tickCount": 30, "format": "d", "labelExpr": "datum.value % 2 === 0 ? datum.label : ''", "tickSize": {"condition": {"test": "datum.value % 2 !== 0", "value": -3}, "value": 4}, "title": "100-Survival probability (%)"}}, "y2": {"field": "u"}}},
   {"transform": [{"filter": "datum.g === 'L'"}], "mark": {"type": "line", "strokeDash": [3, 2], "strokeWidth": 1.3, "stroke": "#5aa5e8"}, "encoding": {"y": {"field": "y", "type": "quantitative", "scale": {"domain": [-0.5, 10.5], "nice": false, "zero": false}}}},
   {"transform": [{"filter": "datum.g === 'H'"}], "mark": {"type": "area", "color": "#f3c57e", "opacity": 0.75}, "encoding": {"y": {"field": "l", "type": "quantitative", "scale": {"domain": [-0.5, 10.5], "nice": false, "zero": false}}, "y2": {"field": "u"}}},
   {"transform": [{"filter": "datum.g === 'H'"}], "mark": {"type": "line", "strokeDash": [3, 2], "strokeWidth": 1.3, "stroke": "#f07a26"}, "encoding": {"y": {"field": "y", "type": "quantitative", "scale": {"domain": [-0.5, 10.5], "nice": false, "zero": false}}}}
  ]},
 {"width": 261, "height": 135, "data": {"name": "NE"},
  "encoding": {"x": {"field": "t", "type": "quantitative", "scale": {"domain": [-0.35, 16.4], "nice": false, "zero": false}, "axis": {"values": [0,2,4,6,8,10,12,14,16], "tickCount": 30, "format": "d", "labelExpr": "datum.value % 4 === 0 ? datum.label : ''", "title": "Time (year)"}}},
  "layer": [
   {"transform": [{"filter": "datum.g === 'L'"}], "mark": {"type": "area", "color": "#a9d0f5", "opacity": 0.6}, "encoding": {"y": {"field": "l", "type": "quantitative", "scale": {"domain": [-0.5, 10.5], "nice": false, "zero": false}, "axis": {"values": [0,1,2,3,4,5,6,7,8,9,10], "tickCount": 30, "format": "d", "labelExpr": "datum.value % 2 === 0 ? datum.label : ''", "tickSize": {"condition": {"test": "datum.value % 2 !== 0", "value": -3}, "value": 4}, "title": "100-Survival probability (%)"}}, "y2": {"field": "u"}}},
   {"transform": [{"filter": "datum.g === 'L'"}], "mark": {"type": "line", "strokeDash": [3, 2], "strokeWidth": 1.3, "stroke": "#5aa5e8"}, "encoding": {"y": {"field": "y", "type": "quantitative", "scale": {"domain": [-0.5, 10.5], "nice": false, "zero": false}}}},
   {"transform": [{"filter": "datum.g === 'H'"}], "mark": {"type": "area", "color": "#f3c57e", "opacity": 0.75}, "encoding": {"y": {"field": "l", "type": "quantitative", "scale": {"domain": [-0.5, 10.5], "nice": false, "zero": false}}, "y2": {"field": "u"}}},
   {"transform": [{"filter": "datum.g === 'H'"}], "mark": {"type": "line", "strokeDash": [3, 2], "strokeWidth": 1.3, "stroke": "#f07a26"}, "encoding": {"y": {"field": "y", "type": "quantitative", "scale": {"domain": [-0.5, 10.5], "nice": false, "zero": false}}}}
  ]}
 ]},
{"title": {"text": "SAFE score", "orient": "left", "anchor": "middle", "font": "Lato", "fontSize": 25, "fontWeight": "bold", "color": "black", "offset": 8, "dx": 20},
 "spacing": 13,
 "hconcat": [
 {"width": 261, "height": 135, "data": {"name": "SO"},
  "encoding": {"x": {"field": "t", "type": "quantitative", "scale": {"domain": [-0.35, 16.4], "nice": false, "zero": false}, "axis": {"values": [0,2,4,6,8,10,12,14,16], "tickCount": 30, "format": "d", "labelExpr": "datum.value % 4 === 0 ? datum.label : ''", "title": "Time (year)"}}},
  "layer": [
   {"transform": [{"filter": "datum.g === 'L'"}], "mark": {"type": "area", "color": "#a9d0f5", "opacity": 0.6}, "encoding": {"y": {"field": "l", "type": "quantitative", "scale": {"domain": [-1.6, 31.5], "nice": false, "zero": false}, "axis": {"values": [0,5,10,15,20,25,30], "tickCount": 30, "format": "d", "labelExpr": "datum.value % 10 === 0 ? datum.label : ''", "tickSize": {"condition": {"test": "datum.value % 10 !== 0", "value": -3}, "value": 4}, "title": "100-Survival probability (%)"}}, "y2": {"field": "u"}}},
   {"transform": [{"filter": "datum.g === 'L'"}], "mark": {"type": "line", "strokeDash": [3, 2], "strokeWidth": 1.3, "stroke": "#5aa5e8"}, "encoding": {"y": {"field": "y", "type": "quantitative", "scale": {"domain": [-1.6, 31.5], "nice": false, "zero": false}}}},
   {"transform": [{"filter": "datum.g === 'H'"}], "mark": {"type": "area", "color": "#f3c57e", "opacity": 0.75}, "encoding": {"y": {"field": "l", "type": "quantitative", "scale": {"domain": [-1.6, 31.5], "nice": false, "zero": false}}, "y2": {"field": "u"}}},
   {"transform": [{"filter": "datum.g === 'H'"}], "mark": {"type": "line", "strokeDash": [3, 2], "strokeWidth": 1.3, "stroke": "#f07a26"}, "encoding": {"y": {"field": "y", "type": "quantitative", "scale": {"domain": [-1.6, 31.5], "nice": false, "zero": false}}}}
  ]},
 {"width": 261, "height": 135, "data": {"name": "SC"},
  "encoding": {"x": {"field": "t", "type": "quantitative", "scale": {"domain": [-0.35, 16.4], "nice": false, "zero": false}, "axis": {"values": [0,2,4,6,8,10,12,14,16], "tickCount": 30, "format": "d", "labelExpr": "datum.value % 4 === 0 ? datum.label : ''", "title": "Time (year)"}}},
  "layer": [
   {"transform": [{"filter": "datum.g === 'L'"}], "mark": {"type": "area", "color": "#a9d0f5", "opacity": 0.6}, "encoding": {"y": {"field": "l", "type": "quantitative", "scale": {"domain": [-0.5, 10.5], "nice": false, "zero": false}, "axis": {"values": [0,1,2,3,4,5,6,7,8,9,10], "tickCount": 30, "format": "d", "labelExpr": "datum.value % 2 === 0 ? datum.label : ''", "tickSize": {"condition": {"test": "datum.value % 2 !== 0", "value": -3}, "value": 4}, "title": "100-Survival probability (%)"}}, "y2": {"field": "u"}}},
   {"transform": [{"filter": "datum.g === 'L'"}], "mark": {"type": "line", "strokeDash": [3, 2], "strokeWidth": 1.3, "stroke": "#5aa5e8"}, "encoding": {"y": {"field": "y", "type": "quantitative", "scale": {"domain": [-0.5, 10.5], "nice": false, "zero": false}}}},
   {"transform": [{"filter": "datum.g === 'H'"}], "mark": {"type": "area", "color": "#f3c57e", "opacity": 0.75}, "encoding": {"y": {"field": "l", "type": "quantitative", "scale": {"domain": [-0.5, 10.5], "nice": false, "zero": false}}, "y2": {"field": "u"}}},
   {"transform": [{"filter": "datum.g === 'H'"}], "mark": {"type": "line", "strokeDash": [3, 2], "strokeWidth": 1.3, "stroke": "#f07a26"}, "encoding": {"y": {"field": "y", "type": "quantitative", "scale": {"domain": [-0.5, 10.5], "nice": false, "zero": false}}}}
  ]},
 {"width": 261, "height": 135, "data": {"name": "SL"},
  "encoding": {"x": {"field": "t", "type": "quantitative", "scale": {"domain": [-0.35, 16.4], "nice": false, "zero": false}, "axis": {"values": [0,2,4,6,8,10,12,14,16], "tickCount": 30, "format": "d", "labelExpr": "datum.value % 4 === 0 ? datum.label : ''", "title": "Time (year)"}}},
  "layer": [
   {"transform": [{"filter": "datum.g === 'L'"}], "mark": {"type": "area", "color": "#a9d0f5", "opacity": 0.6}, "encoding": {"y": {"field": "l", "type": "quantitative", "scale": {"domain": [-0.5, 10.5], "nice": false, "zero": false}, "axis": {"values": [0,1,2,3,4,5,6,7,8,9,10], "tickCount": 30, "format": "d", "labelExpr": "datum.value % 2 === 0 ? datum.label : ''", "tickSize": {"condition": {"test": "datum.value % 2 !== 0", "value": -3}, "value": 4}, "title": "100-Survival probability (%)"}}, "y2": {"field": "u"}}},
   {"transform": [{"filter": "datum.g === 'L'"}], "mark": {"type": "line", "strokeDash": [3, 2], "strokeWidth": 1.3, "stroke": "#5aa5e8"}, "encoding": {"y": {"field": "y", "type": "quantitative", "scale": {"domain": [-0.5, 10.5], "nice": false, "zero": false}}}},
   {"transform": [{"filter": "datum.g === 'H'"}], "mark": {"type": "area", "color": "#f3c57e", "opacity": 0.75}, "encoding": {"y": {"field": "l", "type": "quantitative", "scale": {"domain": [-0.5, 10.5], "nice": false, "zero": false}}, "y2": {"field": "u"}}},
   {"transform": [{"filter": "datum.g === 'H'"}], "mark": {"type": "line", "strokeDash": [3, 2], "strokeWidth": 1.3, "stroke": "#f07a26"}, "encoding": {"y": {"field": "y", "type": "quantitative", "scale": {"domain": [-0.5, 10.5], "nice": false, "zero": false}}}}
  ]},
 {"width": 261, "height": 135, "data": {"name": "SE"},
  "encoding": {"x": {"field": "t", "type": "quantitative", "scale": {"domain": [-0.35, 16.4], "nice": false, "zero": false}, "axis": {"values": [0,2,4,6,8,10,12,14,16], "tickCount": 30, "format": "d", "labelExpr": "datum.value % 4 === 0 ? datum.label : ''", "title": "Time (year)"}}},
  "layer": [
   {"transform": [{"filter": "datum.g === 'L'"}], "mark": {"type": "area", "color": "#a9d0f5", "opacity": 0.6}, "encoding": {"y": {"field": "l", "type": "quantitative", "scale": {"domain": [-0.5, 10.5], "nice": false, "zero": false}, "axis": {"values": [0,1,2,3,4,5,6,7,8,9,10], "tickCount": 30, "format": "d", "labelExpr": "datum.value % 2 === 0 ? datum.label : ''", "tickSize": {"condition": {"test": "datum.value % 2 !== 0", "value": -3}, "value": 4}, "title": "100-Survival probability (%)"}}, "y2": {"field": "u"}}},
   {"transform": [{"filter": "datum.g === 'L'"}], "mark": {"type": "line", "strokeDash": [3, 2], "strokeWidth": 1.3, "stroke": "#5aa5e8"}, "encoding": {"y": {"field": "y", "type": "quantitative", "scale": {"domain": [-0.5, 10.5], "nice": false, "zero": false}}}},
   {"transform": [{"filter": "datum.g === 'H'"}], "mark": {"type": "area", "color": "#f3c57e", "opacity": 0.75}, "encoding": {"y": {"field": "l", "type": "quantitative", "scale": {"domain": [-0.5, 10.5], "nice": false, "zero": false}}, "y2": {"field": "u"}}},
   {"transform": [{"filter": "datum.g === 'H'"}], "mark": {"type": "line", "strokeDash": [3, 2], "strokeWidth": 1.3, "stroke": "#f07a26"}, "encoding": {"y": {"field": "y", "type": "quantitative", "scale": {"domain": [-0.5, 10.5], "nice": false, "zero": false}}}}
  ]}
 ]}
],
"resolve": {"scale": {"stroke": "independent"}, "legend": {"stroke": "independent"}},
"config": {
 "view": {"stroke": null},
 "font": "Lato",
 "axis": {"grid": false, "domainColor": "#4a4a4a", "domainWidth": 1.4, "tickColor": "#4a4a4a", "tickWidth": 1, "labelFont": "Liberation Sans", "labelFontSize": 13.5, "labelColor": "#2a2a2a", "labelPadding": 2, "labelOverlap": false, "titleFont": "Lato", "titleFontWeight": "bold", "titleColor": "#111"},
 "axisX": {"titleFontSize": 13.5, "titlePadding": 4, "tickSize": -4, "labelPadding": 5},
 "axisY": {"titleFontSize": 12, "titlePadding": 5, "tickSize": 4}
}
}
